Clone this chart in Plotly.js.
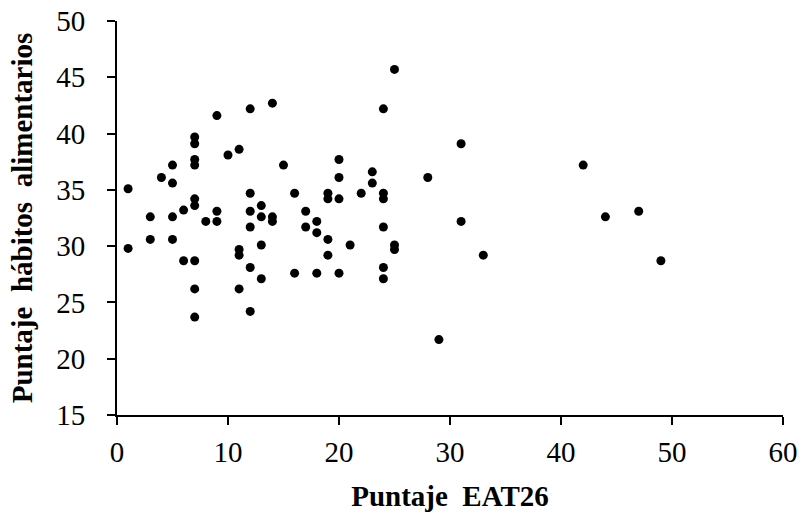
<!DOCTYPE html>
<html>
<head>
<meta charset="utf-8">
<script src="https://cdn.plot.ly/plotly-3.0.1.min.js"></script>
<style>html,body{margin:0;padding:0;background:#fff;}#chart{width:802px;height:515px;}</style>
</head>
<body>
<div id="chart"></div>
<script>
const eat26 = [1,1, 3,3, 4, 5,5,5,5, 6,6, 7,7,7,7,7,7,7,7,7, 8, 9,9,9, 10, 11,11,11,11,
  12,12,12,12,12,12, 13,13,13,13, 14,14,14, 15, 16,16, 17,17, 18,18,18, 19,19,19,19,
  20,20,20,20, 21, 22, 23,23, 24,24,24,24,24,24, 25,25,25, 28, 29, 31,31, 33, 42, 44, 47, 49];
const habitos = [35.1,29.8, 32.6,30.6, 36.1, 37.2,35.6,32.6,30.6, 33.2,28.7,
  39.7,39.1,37.7,37.2,34.2,33.6,28.7,26.2,23.7, 32.2, 41.6,33.1,32.2, 38.1,
  38.6,29.7,29.2,26.2, 42.2,34.7,33.1,31.7,28.1,24.2, 33.6,32.6,30.1,27.1,
  42.7,32.6,32.2, 37.2, 34.7,27.6, 33.1,31.7, 32.2,31.2,27.6, 34.7,34.2,30.6,29.2,
  37.7,36.1,34.2,27.6, 30.1, 34.7, 36.6,35.6, 42.2,34.7,34.2,31.7,28.1,27.1,
  45.7,30.1,29.7, 36.1, 21.7, 39.1,32.2, 29.2, 37.2, 32.6, 33.1, 28.7];
const xTicks = [0,10,20,30,40,50,60];
const yTicks = [15,20,25,30,35,40,45,50];

const font = "Liberation Serif";
Plotly.newPlot('chart', [{
  type: 'scatter', mode: 'markers', x: eat26, y: habitos,
  marker: {color: '#000', size: 9},
  cliponaxis: false, hoverinfo: 'x+y'
}], {
  width: 802, height: 515,
  margin: {l: 117, r: 19, t: 21, b: 100},
  paper_bgcolor: '#fff', plot_bgcolor: '#fff',
  font: {family: font, color: '#000', size: 29},
  showlegend: false,
  xaxis: {
    range: [0, 60], tickvals: xTicks, ticktext: xTicks.map(String),
    showgrid: false, zeroline: false, showline: true, linecolor: '#000', linewidth: 2,
    ticks: 'outside', ticklen: 8, tickwidth: 2, tickcolor: '#000',
    ticklabelstandoff: 2,
    tickfont: {family: font, size: 29, color: '#000'},
    title: {text: '<b>Puntaje  EAT26</b>', font: {family: font, size: 29, color: '#000'}, standoff: 19},
    automargin: false
  },
  yaxis: {
    range: [15, 50], tickvals: yTicks, ticktext: yTicks.map(String),
    showgrid: false, zeroline: false, showline: true, linecolor: '#000', linewidth: 2,
    ticks: 'outside', ticklen: 8, tickwidth: 2, tickcolor: '#000',
    ticklabelstandoff: 16,
    tickfont: {family: font, size: 29, color: '#000'},
    title: {text: '<b>Puntaje&nbsp; hábitos&nbsp; alimentarios</b>', font: {family: font, size: 29, color: '#000'}, standoff: 15},
    automargin: false
  }
}, {staticPlot: true});
</script>
</body>
</html>
